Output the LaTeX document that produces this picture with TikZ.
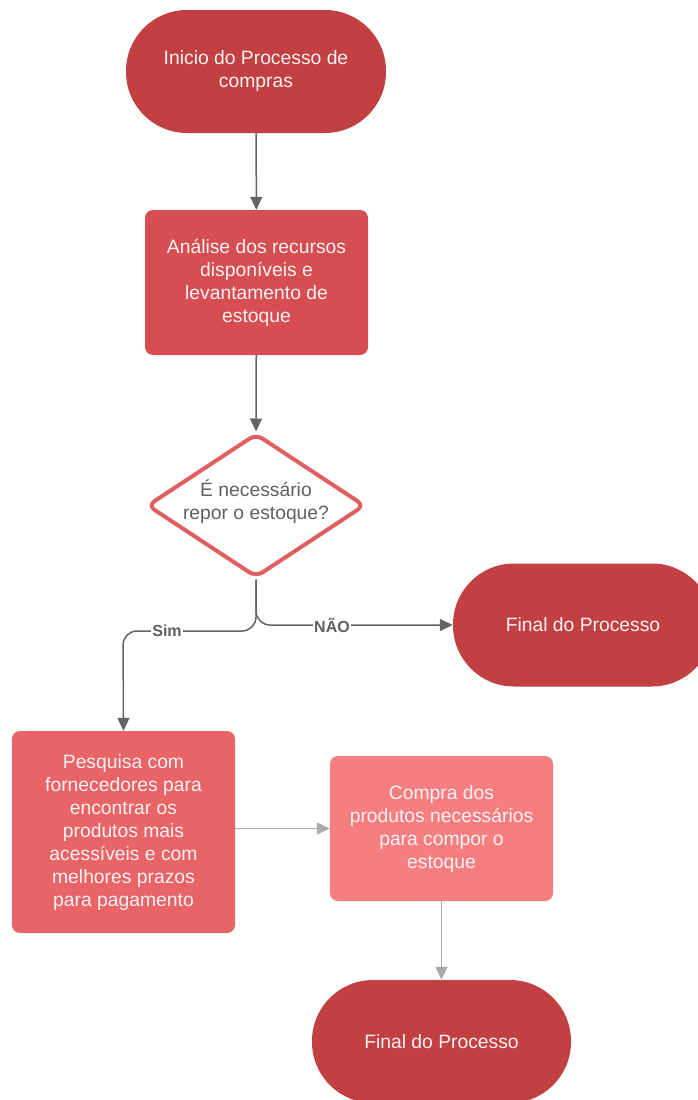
\documentclass[tikz,border=0pt]{standalone}
\usepackage{fontspec}
\setmainfont{Liberation Sans}
\usetikzlibrary{arrows.meta,shapes.geometric}
\definecolor{pillred}{RGB}{194,64,66}
\definecolor{boxred}{RGB}{214,78,82}
\definecolor{boxmid}{RGB}{232,100,103}
\definecolor{boxlight}{RGB}{246,126,128}
\definecolor{dialine}{RGB}{224,96,98}
\definecolor{txtlight}{RGB}{250,242,242}
\definecolor{darkline}{RGB}{100,100,100}
\definecolor{lightline}{RGB}{170,170,170}
\definecolor{labelgray}{RGB}{96,96,96}
\begin{document}
\begin{tikzpicture}[x=1pt,y=-1pt,
  every node/.style={font=\fontsize{19.3}{23}\selectfont, align=center, inner sep=0pt},
  pill/.style={rectangle, rounded corners=61pt, fill=pillred, text=txtlight,
    minimum width=260pt, minimum height=123pt},
  procbox/.style={rectangle, rounded corners=8pt, text=txtlight,
    minimum width=223pt},
  decision/.style={diamond, draw=dialine, line width=4pt, fill=white,
    rounded corners=8pt, minimum width=218pt, minimum height=144pt},
  decisiontext/.style={text=labelgray},
  darrow/.style={draw=darkline, line width=1.5pt,
    -{Triangle[length=13pt,width=12pt]}},
  larrow/.style={draw=lightline, line width=1.5pt,
    -{Triangle[length=13pt,width=12pt]}},
  branchlabel/.style={font=\fontsize{16}{18}\selectfont\bfseries, text=labelgray,
    fill=white, inner xsep=1pt, inner ysep=2pt}]
\useasboundingbox (0,0) rectangle (698,1100);
\clip (0,0) rectangle (698,1100);

% nodes
\node[pill] (inicio) at (256,71.5) {Inicio do Processo de\\compras};
\node[procbox, fill=boxred, minimum height=145pt] (analise) at (256.5,282.5)
  {Análise dos recursos\\disponíveis e\\levantamento de\\estoque};
\node[decision] (decisao) at (256,505.5) {};
\node[decisiontext] (pergunta) at (256,502) {É necessário\\repor o estoque?};
\node[pill] (fimnao) at (583,625) {Final do Processo};
\node[procbox, fill=boxmid, minimum height=202pt] (pesquisa) at (123.5,832)
  {Pesquisa com\\fornecedores para\\encontrar os\\produtos mais\\acessíveis e com\\melhores prazos\\para pagamento};
\node[procbox, fill=boxlight, minimum height=145pt] (compra) at (441.5,828.5)
  {Compra dos\\produtos necessários\\para compor o\\estoque};
\node[pill, minimum width=259pt] (fimsim) at (441.5,1041.5) {Final do Processo};

% connectors
\coordinate (simturn) at (123,631);
\draw[darrow] (inicio) -- (analise);
\draw[darrow] (analise) -- (decisao.north);
\draw[darrow, rounded corners=14pt] (decisao.south) |- (simturn) -- (pesquisa.north);
\draw[darrow, rounded corners=14pt] (decisao.south) |- (fimnao.west);
\draw[larrow] (pesquisa.east |- compra.west) -- (compra.west);
\draw[larrow] (compra.south) -- (fimsim.north);

% branch labels
\node[branchlabel] (sim) at (167,631) {Sim};
\node[branchlabel] (nao) at (332,625) {NÃO};
\end{tikzpicture}
\end{document}
